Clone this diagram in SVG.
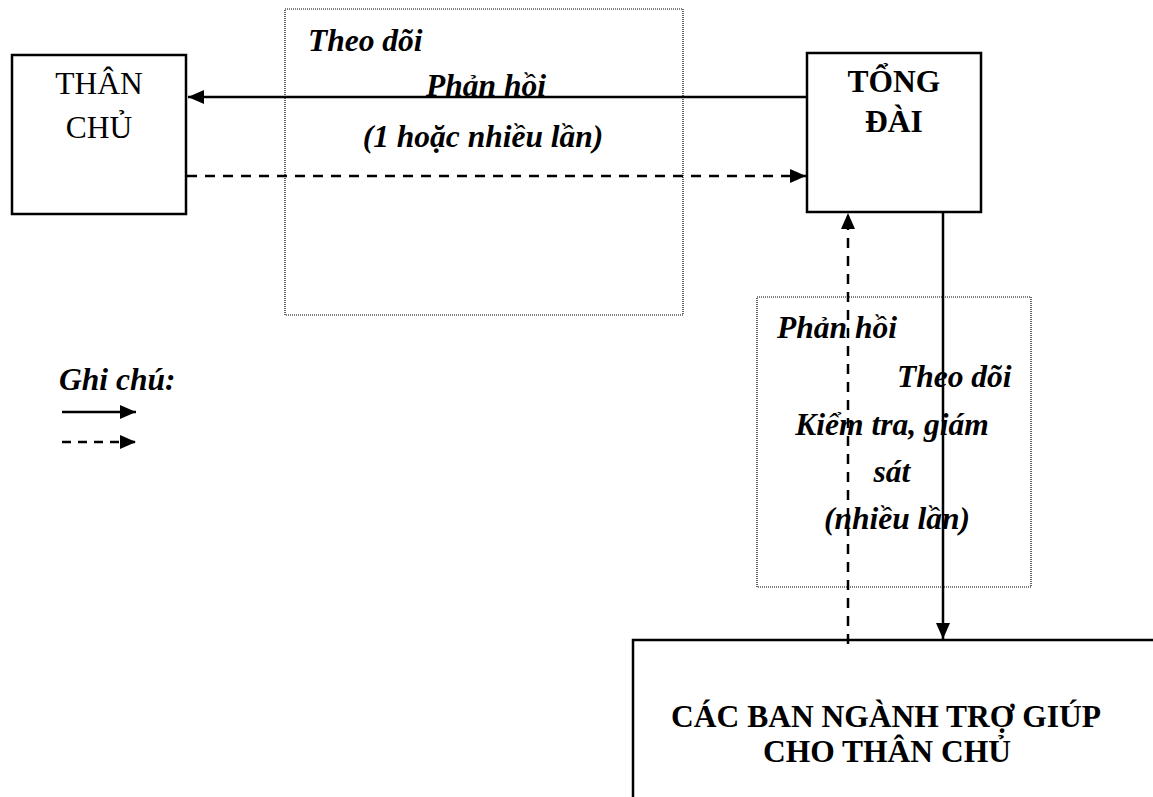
<svg xmlns="http://www.w3.org/2000/svg" width="1153" height="797" viewBox="0 0 1153 797">
<style>
.box{fill:#fff;stroke:#000;stroke-width:2.5}
.dot{fill:none;stroke:#000;stroke-width:1.2;stroke-dasharray:1 1}
.t{font-family:"Liberation Serif","Times New Roman",serif;font-size:31.5px;fill:#000}
.b{font-weight:bold}
.i{font-style:italic;font-weight:bold}
.solid{stroke:#000;stroke-width:2.5;fill:none}
.dash{stroke:#000;stroke-width:2.5;fill:none;stroke-dasharray:10 8}
</style>
<defs>
<marker id="ah" viewBox="0 0 10 10" refX="10" refY="5" markerWidth="16" markerHeight="14" markerUnits="userSpaceOnUse" orient="auto" preserveAspectRatio="none">
<path d="M0,0 L10,5 L0,10 z" fill="#000"/>
</marker>
</defs>
<rect width="1153" height="797" fill="#fff"/>
<g id="frame-theo-doi">
<rect class="dot" x="285" y="9" width="398" height="306"/>
</g>
<g id="frame-phan-hoi">
<rect class="dot" x="757" y="297" width="274" height="290"/>
</g>
<g id="than-chu">
<rect class="box" x="12" y="55" width="174" height="159"/>
<text class="t" x="99" y="94" text-anchor="middle">THÂN</text>
<text class="t" x="99" y="138" text-anchor="middle">CHỦ</text>
</g>
<g id="tong-dai">
<rect class="box" x="807" y="53" width="174" height="159"/>
<text class="t b" x="894" y="92" text-anchor="middle">TỔNG</text>
<text class="t b" x="894" y="132" text-anchor="middle">ĐÀI</text>
</g>
<g id="cac-ban-nganh">
<rect class="box" x="633" y="640" width="540" height="180"/>
<text class="t b" x="886" y="727" text-anchor="middle">CÁC BAN NGÀNH TRỢ GIÚP</text>
<text class="t b" x="887" y="762" text-anchor="middle">CHO THÂN CHỦ</text>
</g>
<g id="labels">
<text class="t i" x="308" y="51">Theo dõi</text>
<text class="t i" x="426" y="96">Phản hồi</text>
<text class="t i" x="483" y="147" text-anchor="middle">(1 hoặc nhiều lần)</text>
<text class="t i" x="777" y="338">Phản hồi</text>
<text class="t i" x="897" y="387">Theo dõi</text>
<text class="t i" x="892" y="435" text-anchor="middle">Kiểm tra, giám</text>
<text class="t i" x="892" y="482" text-anchor="middle">sát</text>
<text class="t i" x="897" y="529" text-anchor="middle">(nhiều lần)</text>
</g>
<g id="connectors">
<line class="solid" x1="807" y1="97" x2="188" y2="97" marker-end="url(#ah)"/>
<line class="dash" x1="187" y1="176" x2="806" y2="176" marker-end="url(#ah)"/>
<line class="dash" x1="848" y1="644" x2="848" y2="213" marker-end="url(#ah)"/>
<line class="solid" x1="943" y1="212" x2="943" y2="639" marker-end="url(#ah)"/>
</g>
<g id="legend">
<text class="t i" x="59" y="390">Ghi chú:</text>
<line class="solid" x1="62" y1="412" x2="136" y2="412" marker-end="url(#ah)"/>
<line x1="62" y1="442" x2="136" y2="442" stroke="#000" stroke-width="2.5" stroke-dasharray="9 7" marker-end="url(#ah)"/>
</g>
</svg>
